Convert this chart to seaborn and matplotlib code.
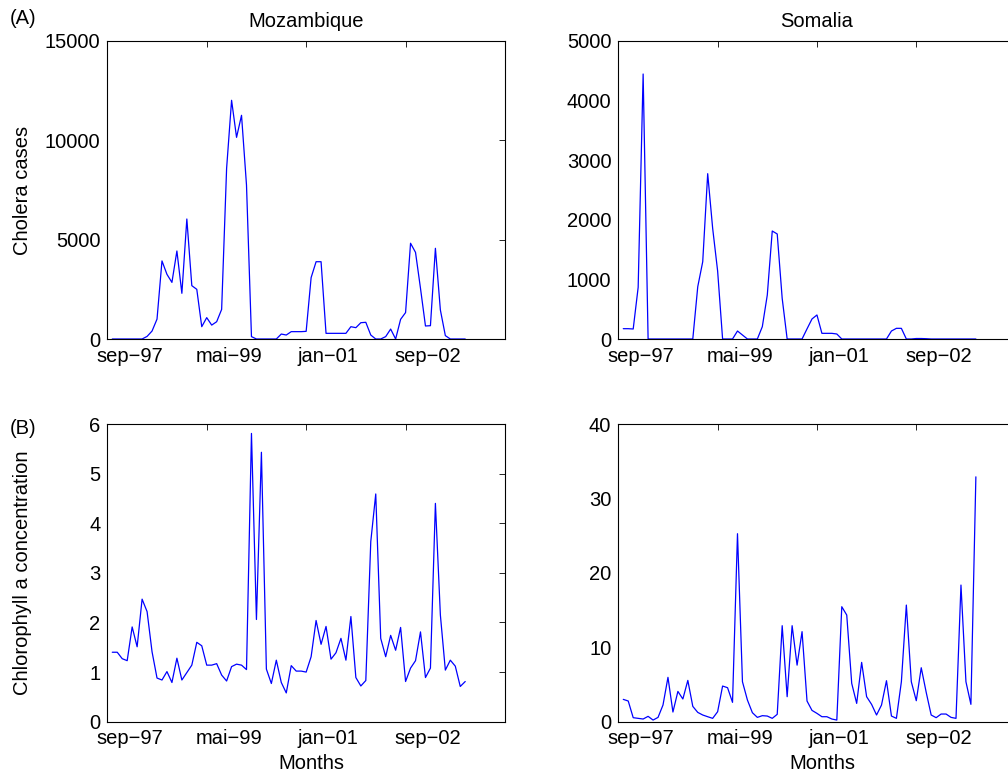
import numpy as np
import pandas as pd
import matplotlib
matplotlib.use("Agg")
import matplotlib.pyplot as plt
from matplotlib.transforms import ScaledTranslation
import seaborn as sns

# ---------------- data (months since sep-97) ----------------
months = np.arange(1, 73)

tick_months = [0, 20, 40, 60, 80]
tick_labels = ["sep\u221297", "mai\u221299", "jan\u221201", "sep\u221202", ""]

moz_cholera = [0, 0, 0, 0, 0, 0, 0, 130, 400, 1000, 3930, 3255, 2850, 4430, 2300, 6040,
               2685, 2500, 620, 1075, 700, 870, 1490, 8590, 12015, 10150, 11260, 7750,
               120, 0, 0, 0, 0, 0, 250, 200, 370, 370, 370, 385, 3090, 3890, 3890, 285,
               285, 285, 285, 285, 620, 570, 820, 840, 200, 0, 0, 120, 500, 0, 990, 1330,
               4820, 4360, 2550, 655, 670, 4565, 1460, 170, 0, 0, 0, 0]

som_cholera = [173, 173, 168, 867, 4446, 0, 0, 0, 0, 0, 0, 0, 0, 0, 0, 878, 1297, 2774,
               1857, 1141, 0, 0, 0, 134, 67, 0, 0, 0, 207, 738, 1812, 1762, 682, 0, 0, 0,
               0, 170, 336, 403, 95, 95, 95, 84, 0, 0, 0, 0, 0, 0, 0, 0, 0, 0, 134, 179,
               179, 0, 0, 8, 8, 5, 0, 0, 0, 0, 0, 0, 0, 0, 0, 0]

moz_chl = [1.40, 1.40, 1.27, 1.23, 1.91, 1.51, 2.47, 2.22, 1.41, 0.88, 0.84, 1.01, 0.79,
           1.28, 0.84, 0.99, 1.14, 1.60, 1.53, 1.14, 1.14, 1.17, 0.94, 0.82, 1.11, 1.16,
           1.14, 1.05, 5.81, 2.06, 5.43, 1.06, 0.77, 1.24, 0.79, 0.58, 1.13, 1.02, 1.02,
           1.00, 1.31, 2.04, 1.56, 1.92, 1.26, 1.39, 1.68, 1.24, 2.12, 0.89, 0.72, 0.83,
           3.63, 4.59, 1.68, 1.31, 1.74, 1.44, 1.90, 0.81, 1.08, 1.23, 1.81, 0.89, 1.08,
           4.40, 2.15, 1.04, 1.24, 1.12, 0.71, 0.81]

som_chl = [3.00, 2.78, 0.54, 0.45, 0.36, 0.72, 0.22, 0.58, 2.24, 5.96, 1.30, 4.07, 3.05,
           5.55, 2.06, 1.25, 0.90, 0.67, 0.45, 1.34, 4.79, 4.57, 2.60, 25.26, 5.37, 2.91,
           1.21, 0.58, 0.81, 0.76, 0.45, 0.99, 12.9, 3.36, 12.9, 7.60, 12.1, 2.78, 1.52,
           1.12, 0.67, 0.67, 0.36, 0.22, 15.45, 14.33, 5.15, 2.46, 7.97, 3.36, 2.33, 0.90,
           2.24, 5.51, 0.76, 0.45, 5.37, 15.67, 5.37, 2.82, 7.25, 3.94, 0.90, 0.54, 1.03,
           1.03, 0.58, 0.45, 18.36, 5.37, 2.33, 32.9]

# ---------------- style ----------------
sns.set_style("white")
plt.rcParams["font.family"] = ["Liberation Sans", "DejaVu Sans"]
plt.rcParams["text.color"] = "black"
plt.rcParams["axes.labelcolor"] = "black"
plt.rcParams["axes.titlecolor"] = "black"
FS = 14.5

W, H = 1008, 779
fig = plt.figure(figsize=(W / 100, H / 100), dpi=100)


def px_axes(left, top, right, bottom):
    return fig.add_axes([left / W, 1 - bottom / H, (right - left) / W, (bottom - top) / H])


panels = [
    dict(box=(107.3, 41, 505, 339), y=moz_cholera, ylim=(0, 15000), yt=[0, 5000, 10000, 15000],
         title="Mozambique", ylabel="Cholera cases", xlabel=None),
    dict(box=(618.3, 41, 1015.6, 339), y=som_cholera, ylim=(0, 5000),
         yt=[0, 1000, 2000, 3000, 4000, 5000], title="Somalia", ylabel=None, xlabel=None),
    dict(box=(107.3, 424, 505, 721.7), y=moz_chl, ylim=(0, 6), yt=[0, 1, 2, 3, 4, 5, 6],
         title=None, ylabel="Chlorophyll a concentration", xlabel="Months"),
    dict(box=(618.3, 424, 1015.6, 721.7), y=som_chl, ylim=(0, 40), yt=[0, 10, 20, 30, 40],
         title=None, ylabel=None, xlabel="Months"),
]

for p in panels:
    ax = px_axes(*p["box"])
    df = pd.DataFrame({"month": months, "value": p["y"]})
    sns.lineplot(data=df, x="month", y="value", ax=ax, color="#0000ff", linewidth=0.9)
    ax.set_xlim(0, 80)
    ax.set_ylim(*p["ylim"])
    ax.set_xticks(tick_months)
    ax.set_xticklabels(tick_labels)
    ax.set_yticks(p["yt"])
    ax.set_yticklabels([str(v) for v in p["yt"]])
    ax.tick_params(direction="in", length=4, width=0.6, top=True, right=True,
                   labelsize=FS, color="black", labelcolor="black")
    ax.tick_params(axis="x", pad=5.5)
    ax.tick_params(axis="y", pad=5)
    for s in ax.spines.values():
        s.set_visible(True)
        s.set_color("black")
        s.set_linewidth(0.8)
    off = ScaledTranslation(0.22, 0, fig.dpi_scale_trans)
    for lab in ax.get_xticklabels():
        lab.set_transform(lab.get_transform() + off)
    ax.set_xlabel("")
    ax.set_ylabel("")
    if p["title"]:
        ax.set_title(p["title"], fontsize=FS, pad=10, color="black")
    if p["ylabel"]:
        ax.set_ylabel(p["ylabel"], fontsize=FS, color="black")
        ax.yaxis.set_label_coords((32 - 107.3) / 397.7, 0.5)
    if p["xlabel"]:
        ax.set_xlabel(p["xlabel"], fontsize=FS, color="black")
        ax.xaxis.set_label_coords(0.5126, -(754 - 721.7) / 297.7)

fig.text(10 / W, 1 - 18 / H, "(A)", fontsize=FS, ha="left", va="center", color="black")
fig.text(10 / W, 1 - 428 / H, "(B)", fontsize=FS, ha="left", va="center", color="black")

fig.savefig("out.png", dpi=100)
